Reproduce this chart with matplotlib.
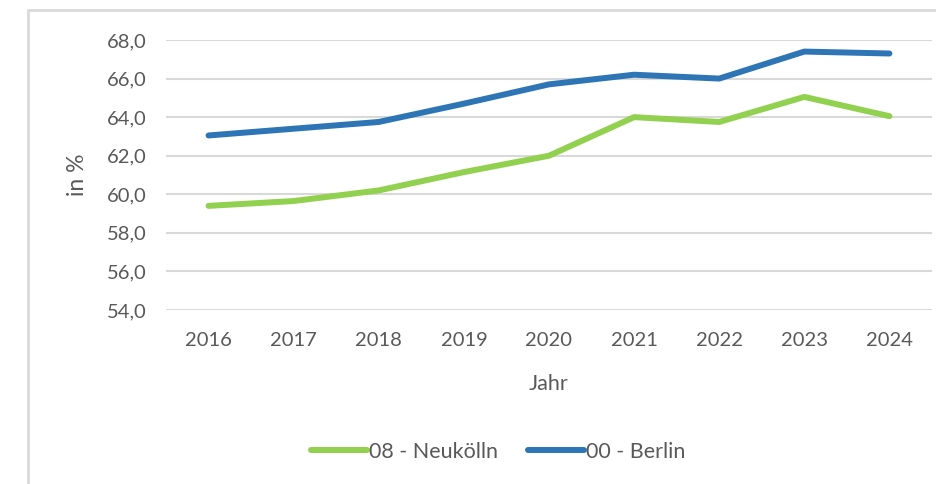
import matplotlib.pyplot as plt
from matplotlib.patches import Rectangle

# data
years = [2016, 2017, 2018, 2019, 2020, 2021, 2022, 2023, 2024]
neukoelln = [59.4, 59.65, 60.2, 61.15, 62.0, 64.0, 63.75, 65.05, 64.05]
berlin = [63.05, 63.4, 63.75, 64.7, 65.7, 66.2, 66.0, 67.4, 67.3]
yticks = [54, 56, 58, 60, 62, 64, 66, 68]

green = '#92D050'
blue = '#2E75B6'
grey_text = '#595959'
plt.rcParams['font.family'] = ['Lato', 'DejaVu Sans']

fig = plt.figure(figsize=(9.36, 4.84), dpi=100, facecolor='white')
ax = fig.add_axes([166/936, 1-310/484, (932-166)/936, 270/484])

x = list(range(len(years)))
ax.plot(x, neukoelln, color=green, lw=4.3, solid_capstyle='round', label='08 - Neukölln')
ax.plot(x, berlin, color=blue, lw=4.3, solid_capstyle='round', label='00 - Berlin')

ax.set_xlim(-0.5, len(years)-0.5)
ax.set_ylim(54, 68)
ax.set_yticks(yticks)
ax.set_yticklabels([('%.1f' % v).replace('.', ',') for v in yticks])
ax.set_xticks(x)
ax.set_xticklabels([str(y) for y in years])
ax.tick_params(length=0, labelsize=14.5, labelcolor=grey_text)
ax.tick_params(axis='y', pad=14)
ax.tick_params(axis='x', pad=16)
ax.grid(axis='y', color='#D9D9D9', lw=1.5)
ax.set_axisbelow(True)
for s in ax.spines.values():
    s.set_visible(False)

ax.set_xlabel('Jahr', fontsize=15.5, color=grey_text, labelpad=18)
ax.set_ylabel('in %', fontsize=16.5, color=grey_text)
ax.yaxis.set_label_coords(-0.102, 0.5)

leg = fig.legend(loc='center', bbox_to_anchor=(498/936, 1-452/484), ncol=2, frameon=False,
                 fontsize=15.5, handlelength=2.6, handletextpad=0.1, columnspacing=1.4)
for t in leg.get_texts():
    t.set_color(grey_text)

# outer chart frame (only top and left visible)
fig.patches.append(Rectangle((28/936, -0.1), 1.1, 1.1 - 10/484, transform=fig.transFigure,
                             fill=False, edgecolor='#D9D9D9', lw=2))

fig.savefig('out.png', dpi=100)
